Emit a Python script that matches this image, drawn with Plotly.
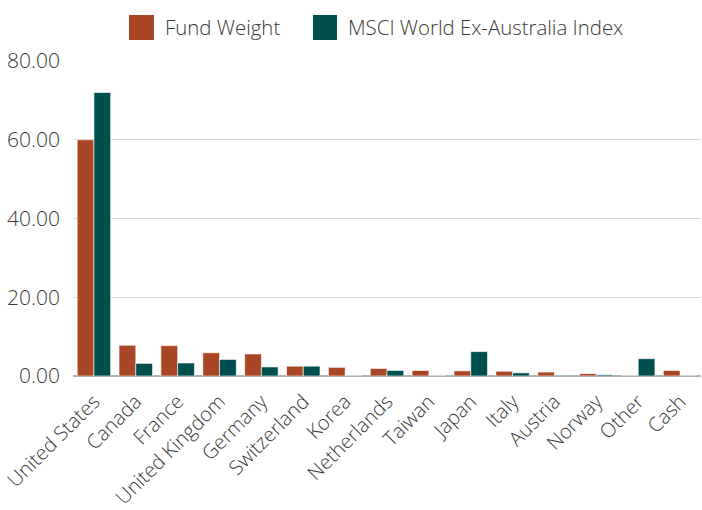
import plotly.graph_objects as go

categories = ["United States", "Canada", "France", "United Kingdom", "Germany",
              "Switzerland", "Korea", "Netherlands", "Taiwan", "Japan", "Italy",
              "Austria", "Norway", "Other", "Cash"]
fund_weight = [60.0, 7.8, 7.7, 5.9, 5.6, 2.5, 2.2, 1.9, 1.4, 1.3, 1.2, 1.0, 0.6, 0.0, 1.4]
msci_index = [72.0, 3.2, 3.3, 4.2, 2.3, 2.5, 0.0, 1.4, 0.0, 6.2, 0.8, 0.2, 0.3, 4.4, 0.0]
series_names = ["Fund Weight", "MSCI World Ex-Australia Index"]
colors = ["#A94626", "#004F4F"]
y_ticks = [0, 20, 40, 60, 80]

FONT = "Open Sans"
TXT = "#3a3a3a"
W = 300

fig = go.Figure()
for name, vals, col in zip(series_names, [fund_weight, msci_index], colors):
    fig.add_trace(go.Bar(
        x=categories, y=vals, name=name, showlegend=False,
        marker=dict(color=col, line=dict(color="rgba(255,255,255,0.6)", width=1)),
    ))

# custom legend (large square swatches); page coords -> paper coords
legend_items = [(129, 154, 165), (313, 337, 348)]
for (x0, x1, tx), name, col in zip(legend_items, series_names, colors):
    fig.add_shape(type="rect", xref="paper", yref="paper",
                  x0=(x0 - 73) / 628, x1=(x1 - 73) / 628,
                  y0=(376 - 15) / 315, y1=(376 - 40) / 315,
                  fillcolor=col, line=dict(width=0), layer="above")
    fig.add_annotation(xref="paper", yref="paper", x=(tx - 73) / 628, y=(376 - 27) / 315,
                       text=name, showarrow=False, xanchor="left", yanchor="middle",
                       xshift=-2,
                       font=dict(family=FONT, size=20.4, color=TXT, weight=W))

fig.update_layout(
    width=702, height=510,
    margin=dict(l=73, r=1, t=61, b=134),
    plot_bgcolor="white", paper_bgcolor="white",
    barmode="group", bargap=0.2, bargroupgap=0.0,
    font=dict(family=FONT, size=20, color=TXT, weight=W),
    xaxis=dict(tickangle=-45, tickfont=dict(family=FONT, size=20, color=TXT, weight=W),
               showgrid=False, showline=False, ticks="", automargin=False,
               ticklabelstandoff=9),
    yaxis=dict(range=[0, 80], tickvals=y_ticks, tickformat=".2f",
               tickfont=dict(family=FONT, size=21, color=TXT, weight=W),
               showgrid=True, gridcolor="#d9d9d9", gridwidth=1,
               zeroline=True, zerolinecolor="#b0b0b0", zerolinewidth=2,
               ticks="", ticklabelstandoff=12, automargin=False),
)

fig.write_html("out.html", config={"displayModeBar": False},
               post_script="document.body.style.margin='0';document.body.style.padding='0';")
